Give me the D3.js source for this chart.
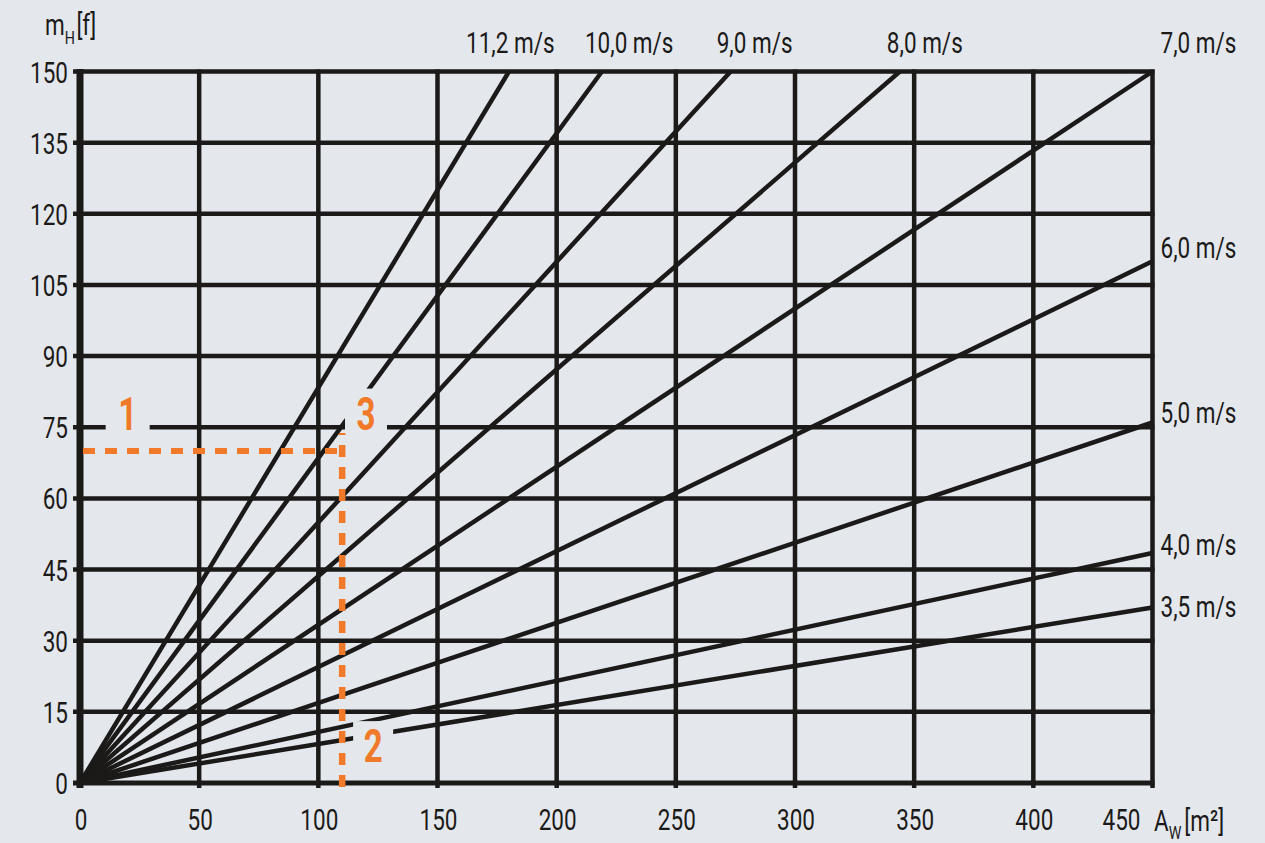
<!DOCTYPE html>
<html><head><meta charset="utf-8">
<script src="https://cdn.jsdelivr.net/npm/d3@7"></script>
<style>
html,body{margin:0;padding:0;background:#e4e8ed;}
svg{display:block;}
text{font-family:"Roboto","Liberation Sans",sans-serif;fill:#1b1a19;}
</style></head><body>
<svg id="c" width="1265" height="843"></svg>
<script>
// ---- data ----
const xTicks = [0, 50, 100, 150, 200, 250, 300, 350, 400, 450];
const yTicks = [0, 15, 30, 45, 60, 75, 90, 105, 120, 135, 150];
const speedLabels = ["11,2 m/s", "10,0 m/s", "9,0 m/s", "8,0 m/s", "7,0 m/s", "6,0 m/s", "5,0 m/s", "4,0 m/s", "3,5 m/s"];
const endX = [180, 219, 273, 344, 450, 450, 450, 450, 450];
const endY = [150, 150, 150, 150, 150, 110, 76, 48.5, 37];
const readArea = [110];      // A_W read-off value
const readMass = [70];       // m_H read-off value
const annotText = ["1", "2", "3"];
const annotX = [20, 123, 120];
const annotY = [74.5, 4.4, 74.5];

// ---- layout ----
const svg = d3.select("#c");
const x = d3.scaleLinear().domain([0, 450]).range([80, 1152.5]);
const y = d3.scaleLinear().domain([0, 150]).range([783, 71.5]);
const ink = "#1b1a19", orange = "#f07a2a", bg = "#e4e8ed";
const fs = 30, sx = 0.75;

function place(sel, fx, fy, s) {
  return sel.attr("transform", (d, i) => `translate(${fx(d, i)},${fy(d, i)}) scale(${s},1)`);
}

// grid
const g = svg.append("g");
g.selectAll("line.v").data(xTicks.slice(1)).enter().append("line")
  .attr("x1", d => x(d)).attr("x2", d => x(d))
  .attr("y1", y(150) - 2).attr("y2", y(0) + 5)
  .attr("stroke", ink).attr("stroke-width", 4.5);
g.selectAll("line.h").data(yTicks).enter().append("line")
  .attr("x1", x(0) - 7).attr("x2", x(450) + 2)
  .attr("y1", d => y(d)).attr("y2", d => y(d))
  .attr("stroke", ink).attr("stroke-width", d => d === 0 ? 5 : 4.5);
g.append("line").attr("x1", x(0)).attr("x2", x(0))
  .attr("y1", y(150) - 2.5).attr("y2", y(0) + 5)
  .attr("stroke", ink).attr("stroke-width", 7);

// speed lines
svg.append("g").selectAll("line").data(speedLabels).enter().append("line")
  .attr("x1", x(0)).attr("y1", y(0))
  .attr("x2", (d, i) => x(endX[i])).attr("y2", (d, i) => y(endY[i]))
  .attr("stroke", ink).attr("stroke-width", 4.5);

// speed labels
const topDx = [-43, -17, -14, -13, 8];
const rightDy = [0, 0, 0, 0, -18, -3, 0, 2, 10];
place(svg.append("g").selectAll("text").data(speedLabels).enter().append("text"),
  (d, i) => i < 5 ? x(endX[i]) + topDx[i] : x(450) + 8,
  (d, i) => i < 5 ? 53 : y(endY[i]) + rightDy[i], sx)
  .attr("font-size", fs).text(d => d);

// tick labels
place(svg.append("g").selectAll("text").data(yTicks).enter().append("text"),
  () => 68, d => y(d) + 11, sx)
  .attr("text-anchor", "end").attr("font-size", fs).text(d => d);
place(svg.append("g").selectAll("text").data(xTicks).enter().append("text"),
  (d, i) => i === xTicks.length - 1 ? x(d) - 12 : x(d) + 1, () => 830, sx)
  .attr("text-anchor", (d, i) => i === xTicks.length - 1 ? "end" : "middle")
  .attr("font-size", fs).text(d => d);

// axis titles
const ty = svg.append("text").attr("transform", `translate(45,35) scale(${sx},1)`).attr("font-size", fs);
ty.append("tspan").text("m");
ty.append("tspan").attr("font-size", 19).attr("dy", 9).text("H");
ty.append("tspan").attr("dy", -9).attr("dx", 2).text("[f]");
const tx = svg.append("text").attr("transform", `translate(1154,831) scale(${sx},1)`).attr("font-size", fs);
tx.append("tspan").text("A");
tx.append("tspan").attr("font-size", 19).attr("dy", 8).text("W");
tx.append("tspan").attr("dy", -8).attr("dx", 4).text("[m²]");

// annotation boxes (knock out lines behind labels)
const boxW = [44, 40, 42];
svg.append("g").selectAll("rect").data(annotText).enter().append("rect")
  .attr("x", (d, i) => x(annotX[i]) - boxW[i] / 2)
  .attr("y", (d, i) => y(annotY[i]) - 41)
  .attr("width", (d, i) => boxW[i]).attr("height", (d, i) => i === 1 ? 48 : 45)
  .attr("fill", bg);

// dashed read-off lines
const dash = "12,10";
svg.append("line")
  .attr("x1", x(0) + 3).attr("x2", x(readArea[0]))
  .attr("y1", y(readMass[0])).attr("y2", y(readMass[0]))
  .attr("stroke", orange).attr("stroke-width", 6).attr("stroke-dasharray", dash);
svg.append("line")
  .attr("x1", x(readArea[0])).attr("x2", x(readArea[0]))
  .attr("y1", y(0) + 4).attr("y2", y(73.8))
  .attr("stroke", orange).attr("stroke-width", 6.5).attr("stroke-dasharray", dash);

// annotation numbers
place(svg.append("g").selectAll("text").data(annotText).enter().append("text"),
  (d, i) => x(annotX[i]), (d, i) => y(annotY[i]), 0.72)
  .attr("text-anchor", "middle").attr("font-size", 46).attr("font-weight", "bold")
  .style("fill", orange).text(d => d);
</script>
</body></html>
